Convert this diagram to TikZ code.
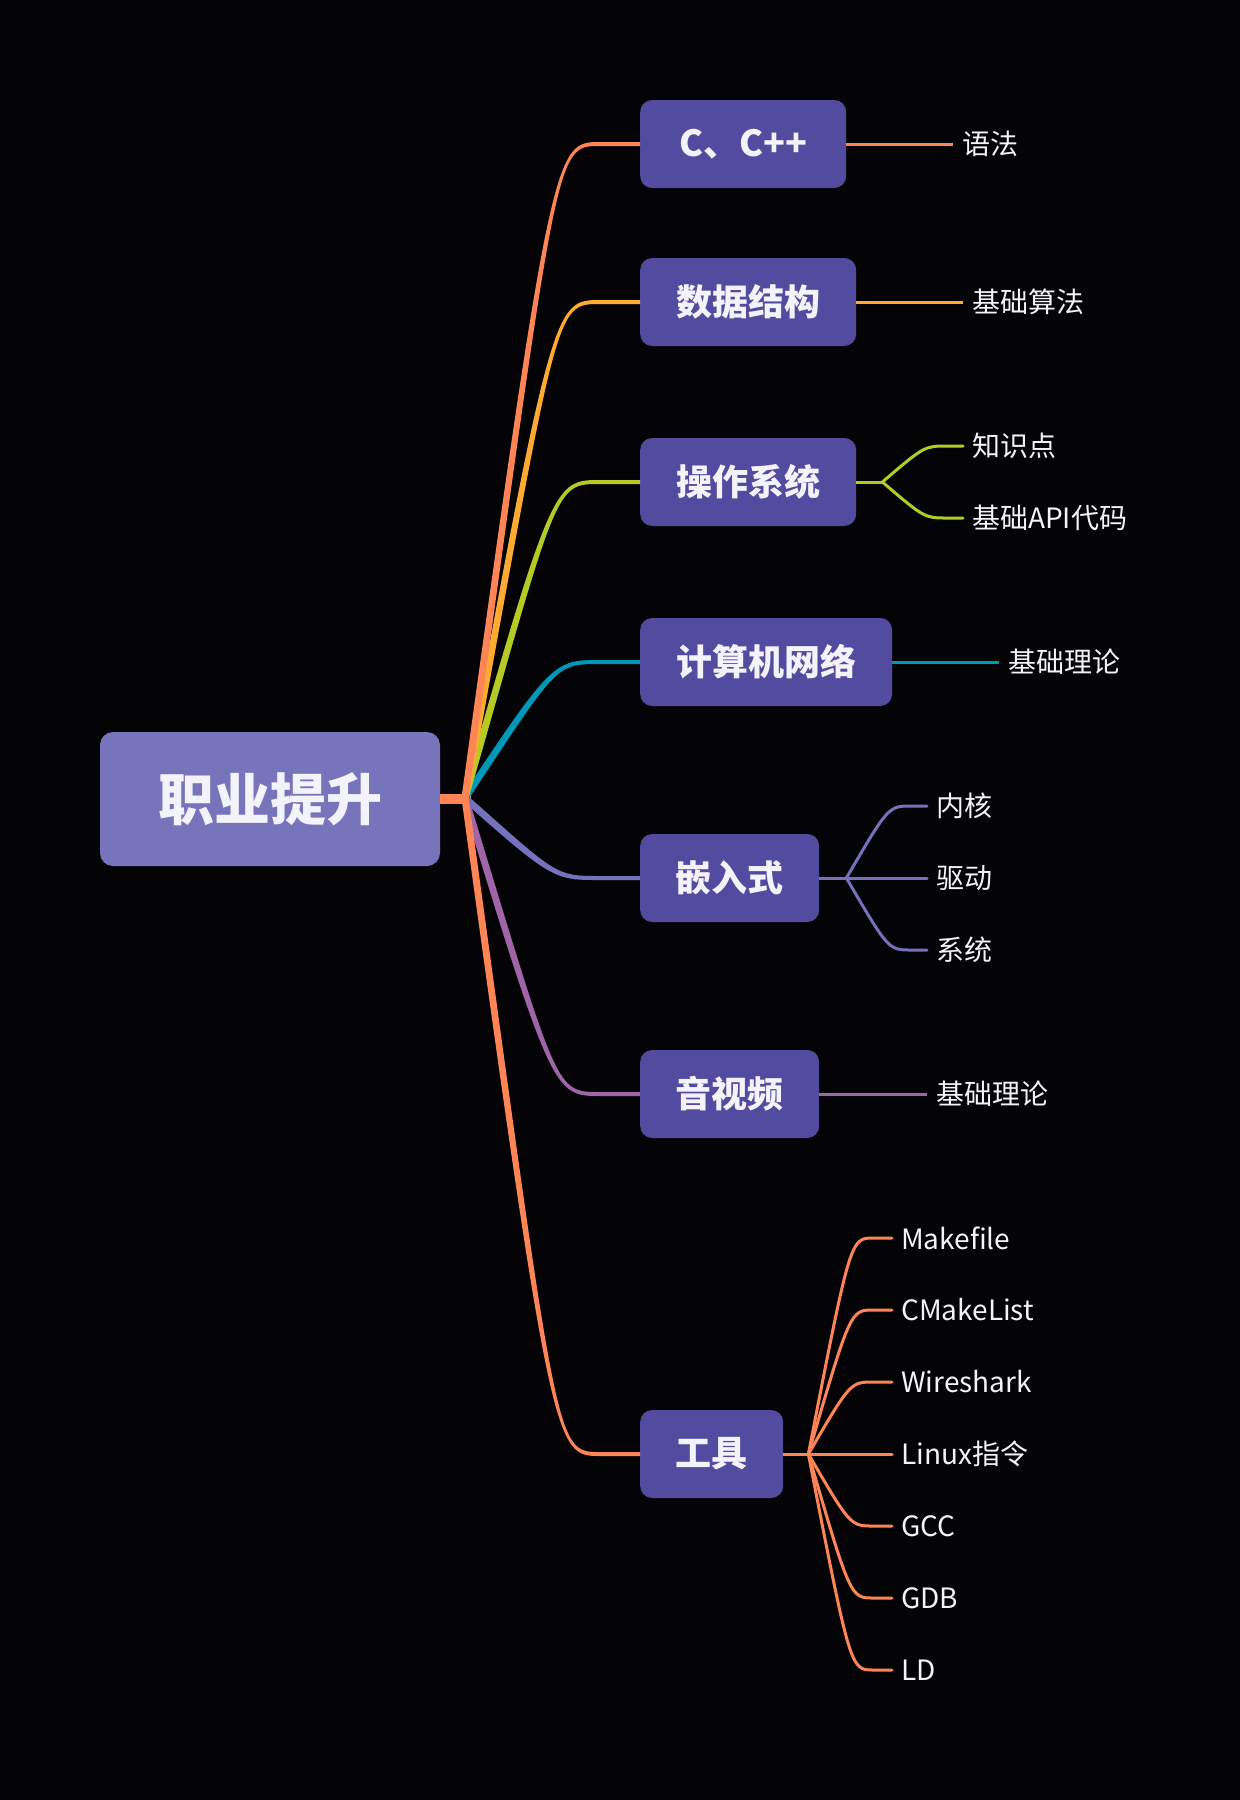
\documentclass[tikz,border=0pt]{standalone}
\usepackage{fontspec}
\setmainfont{Noto Sans CJK SC}
\usetikzlibrary{calc}
\definecolor{bg}{HTML}{040406}
\definecolor{boxc}{HTML}{534B9F}
\definecolor{rootc}{HTML}{7874BC}
\definecolor{txt}{HTML}{F4F2FA}
\definecolor{cC}{HTML}{FF8456}
\definecolor{cD}{HTML}{FFAA33}
\definecolor{cO}{HTML}{B6CA26}
\definecolor{cN}{HTML}{0098B9}
\definecolor{cE}{HTML}{7671BC}
\definecolor{cA}{HTML}{A064A8}
\definecolor{cT}{HTML}{FF8456}
\tikzset{
  rootbox/.style={rectangle, rounded corners=13pt, fill=rootc, text=txt, inner sep=0pt,
    font=\fontsize{56pt}{60pt}\selectfont\bfseries},
  mainbox/.style={rectangle, rounded corners=12pt, fill=boxc, text=txt, inner sep=0pt,
    anchor=west, minimum height=88pt, font=\fontsize{36pt}{40pt}\selectfont\bfseries},
  lbl/.style={anchor=west, inner xsep=9pt, inner ysep=0pt, text=txt,
    font=\fontsize{28pt}{31pt}\selectfont},
  subline/.style={draw=#1, line width=3pt, line cap=round}
}
\newcommand\mainbr[2]{%
  \coordinate (Q) at ($(#2.west)+(-85,0)$);
  \coordinate (E) at ($(#2.west)+(-40,0)$);
  \coordinate (Ap) at ($(F)!3.5pt!90:(Q)$);
  \coordinate (Am) at ($(F)!3.5pt!-90:(Q)$);
  \coordinate (Ep) at ($(E)!2pt!90:(#2.west)$);
  \coordinate (Em) at ($(E)!2pt!-90:(#2.west)$);
  \fill[#1] (Ap) .. controls ($(Q)+(Ap)-(F)$) and ($(Q)+(Ep)-(E)$) .. (Ep)
    -- ($(#2.west)+(Ep)-(E)$) -- ($(#2.west)+(Em)-(E)$) -- (Em)
    .. controls ($(Q)+(Em)-(E)$) and ($(Q)+(Am)-(F)$) .. (Am) -- cycle;
}
\newcommand\subbr[3]{%
  \draw[subline=#1] (#2) .. controls ($(#2 |- #3.west)+(42,0)$) and ($(#2 |- #3.west)+(42,0)$)
    .. ($(#2 |- #3.west)+(65,0)$) -- (#3.west);
}
\begin{document}
\begin{tikzpicture}[x=1pt,y=-1pt]
\fill[bg] (0,0) rectangle (1240,1800);
\useasboundingbox (0,0) rectangle (1240,1800);

% root
\node[rootbox, minimum width=340pt, minimum height=134pt] (root) at (270,799) {职业提升};

% main boxes
\node[mainbox, minimum width=206pt] (cpp) at (640,144) {C、C++};
\node[mainbox, minimum width=216pt] (ds) at (640,302) {数据结构};
\node[mainbox, minimum width=216pt] (os) at (640,482) {操作系统};
\node[mainbox, minimum width=252pt] (net) at (640,662) {计算机网络};
\node[mainbox, minimum width=179pt] (emb) at (640,878) {嵌入式};
\node[mainbox, minimum width=179pt] (av) at (640,1094) {音视频};
\node[mainbox, minimum width=143pt] (tool) at (640,1454) {工具};

% labels
\node[lbl] (cpp1) at (953,144) {语法};
\node[lbl] (ds1) at (963,302) {基础算法};
\node[lbl] (os1) at (963,446) {知识点};
\node[lbl] (os2) at (963,518) {基础API代码};
\node[lbl] (net1) at (999,662) {基础理论};
\node[lbl] (emb1) at (927,806) {内核};
\node[lbl] (emb2) at (927,878) {驱动};
\node[lbl] (emb3) at (927,950) {系统};
\node[lbl] (av1) at (927,1094) {基础理论};
\node[lbl] (t1) at (892,1238) {Makefile};
\node[lbl] (t2) at (892,1310) {CMakeList};
\node[lbl] (t3) at (892,1382) {Wireshark};
\node[lbl] (t4) at (892,1454) {Linux指令};
\node[lbl] (t5) at (892,1526) {GCC};
\node[lbl] (t6) at (892,1598) {GDB};
\node[lbl] (t7) at (892,1670) {LD};

% root fork
\coordinate (F) at (465,798);
\fill[cC] ($(root.east)+(0,-5)$) rectangle (471,804);

\mainbr{cA}{av}
\mainbr{cE}{emb}
\mainbr{cN}{net}
\mainbr{cO}{os}
\mainbr{cD}{ds}
\mainbr{cC}{cpp}
\mainbr{cT}{tool}

% sub forks
\coordinate (osf) at ($(os.east)+(26,0)$);
\coordinate (embf) at ($(emb.east)+(27,0)$);
\coordinate (toolf) at ($(tool.east)+(25,0)$);

\draw[subline=cC, line cap=butt] (cpp.east) -- (cpp1.west);
\draw[subline=cD, line cap=butt] (ds.east) -- (ds1.west);
\draw[subline=cN, line cap=butt] (net.east) -- (net1.west);
\draw[subline=cA, line cap=butt] (av.east) -- (av1.west);

\draw[subline=cO, line cap=butt] (os.east) -- (osf);
\subbr{cO}{osf}{os1}
\subbr{cO}{osf}{os2}

\draw[subline=cE, line cap=butt] (emb.east) -- (embf);
\subbr{cE}{embf}{emb1}
\subbr{cE}{embf}{emb2}
\subbr{cE}{embf}{emb3}

\draw[subline=cT, line cap=butt] (tool.east) -- (toolf);
\subbr{cT}{toolf}{t1}
\subbr{cT}{toolf}{t2}
\subbr{cT}{toolf}{t3}
\subbr{cT}{toolf}{t4}
\subbr{cT}{toolf}{t5}
\subbr{cT}{toolf}{t6}
\subbr{cT}{toolf}{t7}
\end{tikzpicture}
\end{document}
